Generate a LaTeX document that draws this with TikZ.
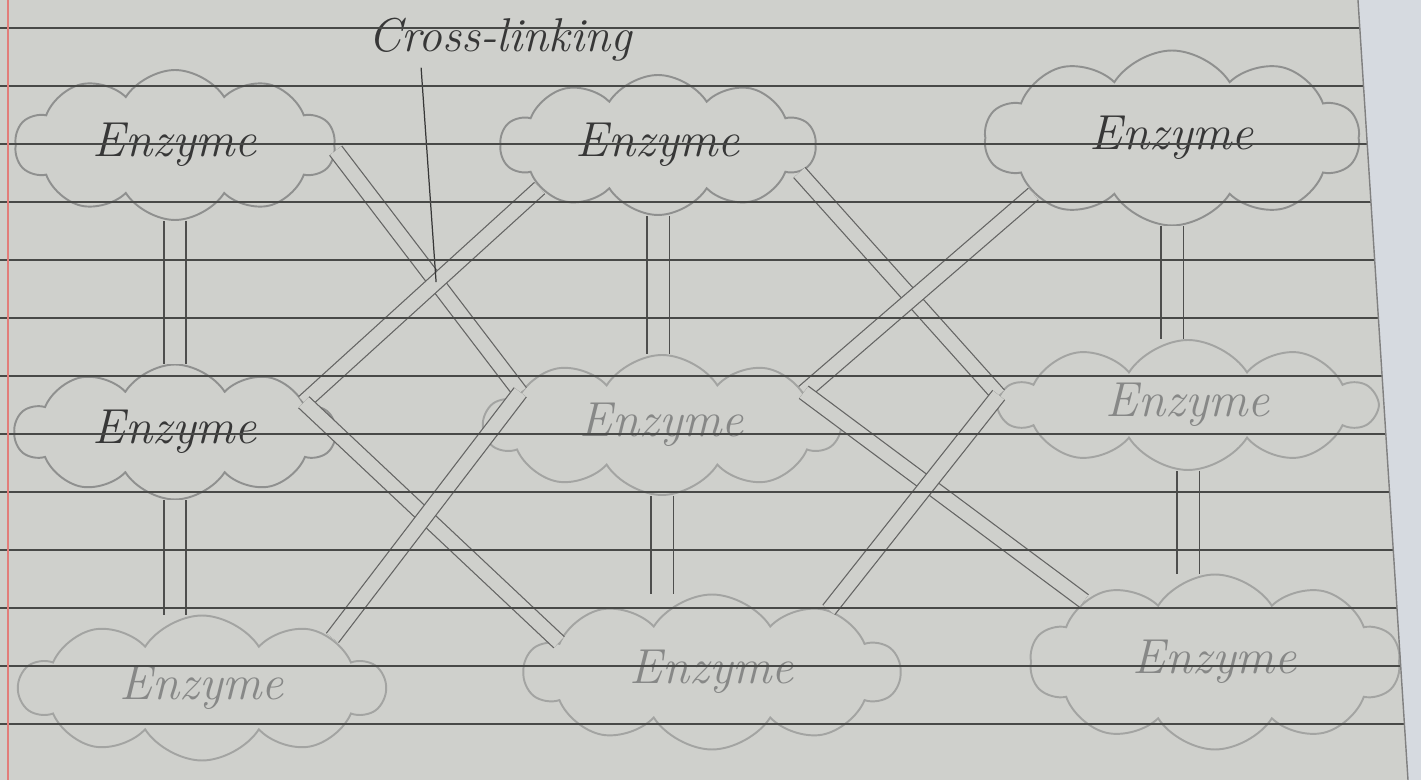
\documentclass[tikz,border=0pt]{standalone}
\usetikzlibrary{shapes.symbols,intersections}
\definecolor{paper}{RGB}{207,208,204}
\definecolor{sheet}{RGB}{214,218,224}
\definecolor{pencil}{RGB}{55,55,55}
\tikzset{
	enz/.style={cloud, cloud puffs=10, cloud puff arc=115, cloud ignores aspect, draw=gray!80!paper, line width=1.1pt, inner sep=0pt, text=pencil, font=\fontsize{28}{30}\selectfont\itshape},
	enzlite/.style={enz, draw=gray!55!paper, text=gray!90!paper},
	link/.style={draw=pencil!85!paper, line width=0.7pt, double=paper, double distance=0.42cm},
	xlink/.style={draw=pencil!70!paper, line width=0.7pt, double=paper, double distance=0.28cm},
	rule/.style={black!65!paper, line width=0.8pt},
	note/.style={text=pencil, font=\fontsize{27}{29}\selectfont\itshape}
}
\begin{document}
\begin{tikzpicture}[x=0.02cm,y=-0.02cm]
	\useasboundingbox[fill=paper] (0,0) rectangle (1421,780);
	\fill[sheet] (1358,0) -- (1421,0) -- (1421,780) -- (1408,780) -- cycle;
	\node[enz, minimum width=6.4cm, minimum height=3cm] (c11) at (175,145) {Enzyme};
	\node[enz, minimum width=6.3cm, minimum height=2.8cm] (c12) at (658,145) {Enzyme};
	\node[enz, minimum width=7.5cm, minimum height=3.5cm] (c13) at (1172,138) {Enzyme};
	\node[enz, minimum width=6.4cm, minimum height=2.7cm] (c21) at (175,432) {Enzyme};
	\node[enzlite, minimum width=7.1cm, minimum height=2.8cm] (c22) at (662,425) {Enzyme};
	\node[enzlite, minimum width=7.5cm, minimum height=2.6cm] (c23) at (1188,405) {Enzyme};
	\node[enzlite, minimum width=7.3cm, minimum height=2.9cm] (c31) at (202,688) {Enzyme};
	\node[enzlite, minimum width=7.5cm, minimum height=3.1cm] (c32) at (712,672) {Enzyme};
	\node[enzlite, minimum width=7.4cm, minimum height=3.5cm] (c33) at (1215,662) {Enzyme};
	\draw[link] (c11.south) -- (c21.north);
	\draw[link] (c21.south) -- (c21.south |- c31.north);
	\draw[link] (c12.south) -- (c12.south |- c22.north);
	\draw[link] (c22.south) -- (c22.south |- c32.north);
	\draw[link] (c13.south) -- (c13.south |- c23.north);
	\draw[link] (c23.south) -- (c23.south |- c33.north);
	\draw[xlink, name path=lnA] (c11.-2) -- (c22.167);
	\draw[xlink, name path=lnB] (c12.200) -- (c21.13);
	\draw[xlink] (c21.13) -- (c32.169);
	\draw[xlink] (c22.167) -- (c31.21);
	\draw[xlink] (c12.-11) -- (c23.177);
	\draw[xlink] (c13.202) -- (c22.13);
	\draw[xlink] (c22.13) -- (c33.155);
	\draw[xlink] (c23.177) -- (c32.28);
	\path[name intersections={of=lnA and lnB, by=xing}];
	\node[note] (xlab) at (500,40) {Cross-linking};
	\draw[pencil, line width=0.7pt] ([xshift=-0.3cm]xing |- xlab.south) -- (xing);
	\foreach \y in {28,86,...,780}
		\draw[rule] (0,\y) -- ({1358+\y*0.064},\y);
	\draw[red!40!paper, line width=1pt] (8,0) -- (8,780);
	\draw[gray, line width=0.8pt] (1358,0) -- (1408,780);
\end{tikzpicture}
\end{document}
